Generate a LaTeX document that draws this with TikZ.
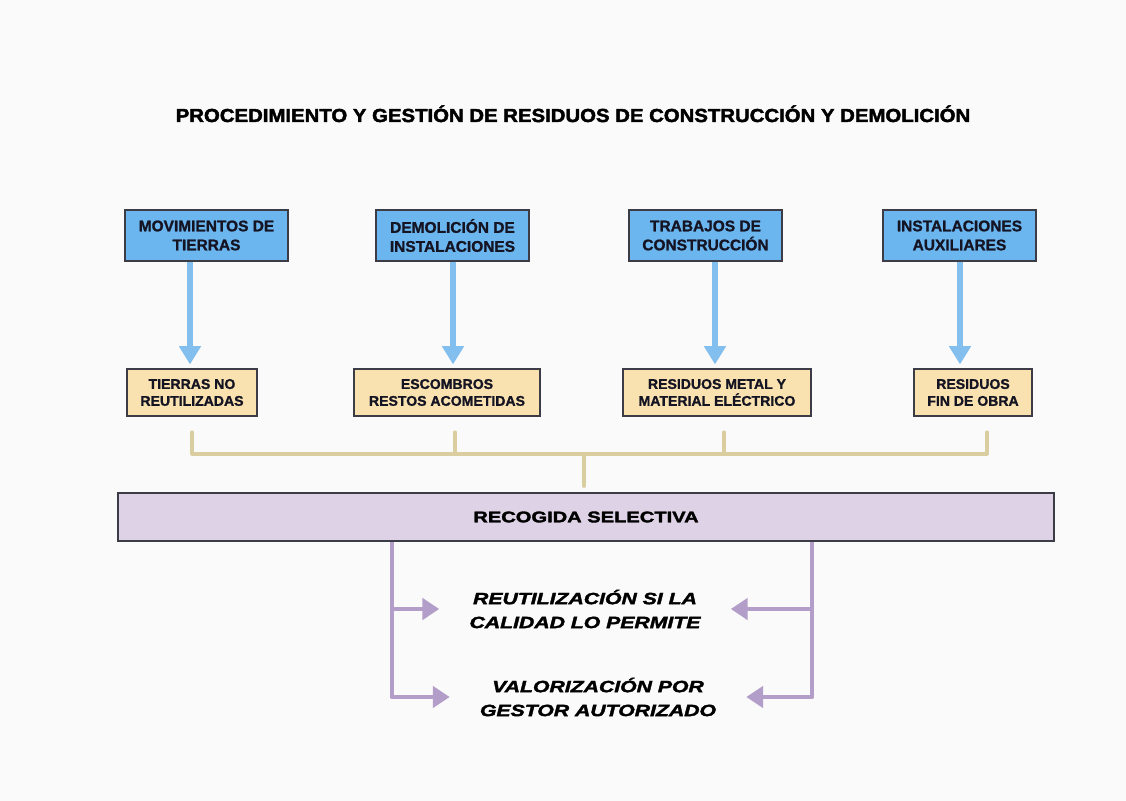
\documentclass[tikz,border=0pt]{standalone}
\usepackage{fontspec}
\setmainfont{Liberation Sans}[FakeBold=1.2]
\newfontfamily\titlefont[FakeStretch=1.08,FakeBold=2.2]{Liberation Sans}
\newfontfamily\widefont[FakeStretch=1.3,FakeBold=2.2]{Liberation Sans}
\usetikzlibrary{calc,arrows.meta}
\definecolor{fondo}{RGB}{250,250,250}
\definecolor{azul}{RGB}{108,182,240}
\definecolor{azulflecha}{RGB}{130,190,238}
\definecolor{crema}{RGB}{250,226,176}
\definecolor{lila}{RGB}{222,210,230}
\definecolor{lilaflecha}{RGB}{178,158,200}
\definecolor{arena}{RGB}{218,206,160}
\definecolor{borde}{RGB}{60,60,70}
\definecolor{texto}{RGB}{20,20,35}

\begin{document}
\begin{tikzpicture}[x=0.025cm,y=-0.025cm,
  origen/.style={draw=borde,line width=0.9pt,fill=azul,minimum width=3.825cm,minimum height=1.275cm,
    align=center,text=texto,font=\bfseries\fontsize{11}{13.5}\selectfont,inner sep=0pt},
  residuo/.style={draw=borde,line width=0.9pt,fill=crema,minimum height=1.175cm,
    align=center,text=texto,font=\bfseries\fontsize{10}{12}\selectfont,inner sep=0pt},
  bajada/.style={azulflecha,line width=4.3pt,-{Triangle[width=15pt,length=13pt]},shorten >=2.8pt},
  union/.style={arena,line width=2.2pt,line cap=round,line join=round},
  salida/.style={lilaflecha,line width=3.5pt,-{Triangle[width=15pt,length=12pt]},line join=round},
  destino/.style={align=center,font=\widefont\bfseries\itshape\fontsize{11.6}{17}\selectfont,
    inner xsep=0.75cm,inner ysep=0pt}]

%FONDO
\useasboundingbox[fill=fondo] (0,0) rectangle (1126,801);

%TITULO
\node[anchor=base,font=\titlefont\bfseries\fontsize{13.4}{16}\selectfont] (titulo) at (573,122)
  {PROCEDIMIENTO Y GESTIÓN DE RESIDUOS DE CONSTRUCCIÓN Y DEMOLICIÓN};

%FILA DE ARRIBA (origen de los residuos)
\node[origen,minimum width=4.075cm] (m1) at (206.5,235.5) {MOVIMIENTOS DE\\TIERRAS};
\node[origen] (m2) at (452.5,235.5) {DEMOLICIÓN DE\\INSTALACIONES};
\node[origen] (m3) at (705.5,235.5) {TRABAJOS DE\\CONSTRUCCIÓN};
\node[origen] (m4) at (959.5,235.5) {INSTALACIONES\\AUXILIARES};

%FILA DEL MEDIO (tipo de residuo)
\node[residuo,minimum width=3.25cm] (t1) at (192,392.5) {TIERRAS NO\\REUTILIZADAS};
\node[residuo,minimum width=4.65cm] (t2) at (447,392.5) {ESCOMBROS\\RESTOS ACOMETIDAS};
\node[residuo,minimum width=4.7cm] (t3) at (717,392.5) {RESIDUOS METAL Y\\MATERIAL ELÉCTRICO};
\node[residuo,minimum width=2.95cm] (t4) at (973,392.5) {RESIDUOS\\FIN DE OBRA};

%FLECHAS AZULES
\coordinate (a1) at (190,0);
\coordinate (a2) at (453,0);
\coordinate (a3) at (715,0);
\coordinate (a4) at (960,0);
\draw[bajada] (a1 |- m1.south) -- (a1 |- t1.north);
\draw[bajada] (a2 |- m2.south) -- (a2 |- t2.north);
\draw[bajada] (a3 |- m3.south) -- (a3 |- t3.north);
\draw[bajada] (a4 |- m4.south) -- (a4 |- t4.north);

%BARRA DE RECOGIDA
\node[draw=borde,line width=0.9pt,fill=lila,minimum width=23.4cm,minimum height=1.2cm,inner sep=0pt,
  text=black,font=\widefont\bfseries\fontsize{11}{13}\selectfont] (barra) at (586,517) {RECOGIDA SELECTIVA};

%UNION DE LOS RESIDUOS
\coordinate (j1) at (192,432);
\coordinate (j2) at (455,432);
\coordinate (j3) at (724,432);
\coordinate (j4) at (987,432);
\coordinate (cruce) at (584,454);
\draw[union] (j1) |- (cruce) -| (j4);
\draw[union] (j2) -- (j2 |- cruce);
\draw[union] (j3) -- (j3 |- cruce);
\draw[union,shorten >=4.3pt] (cruce) -- (cruce |- barra.north);

%DESTINOS
\node[destino] (reut) at (585,609) {REUTILIZACIÓN SI LA\\CALIDAD LO PERMITE};
\node[destino] (valo) at (598,697) {VALORIZACIÓN POR\\GESTOR AUTORIZADO};

%FLECHAS LILAS
\coordinate (pl) at (392,0);
\coordinate (pr) at (812,0);
\draw[salida] (pl |- barra.south) -- (pl |- valo) -- (valo.west);
\draw[salida] (pl |- reut) -- (reut.west);
\draw[salida] (pr |- barra.south) -- (pr |- valo) -- (valo.east);
\draw[salida] (pr |- reut) -- (reut.east);

\end{tikzpicture}
\end{document}
